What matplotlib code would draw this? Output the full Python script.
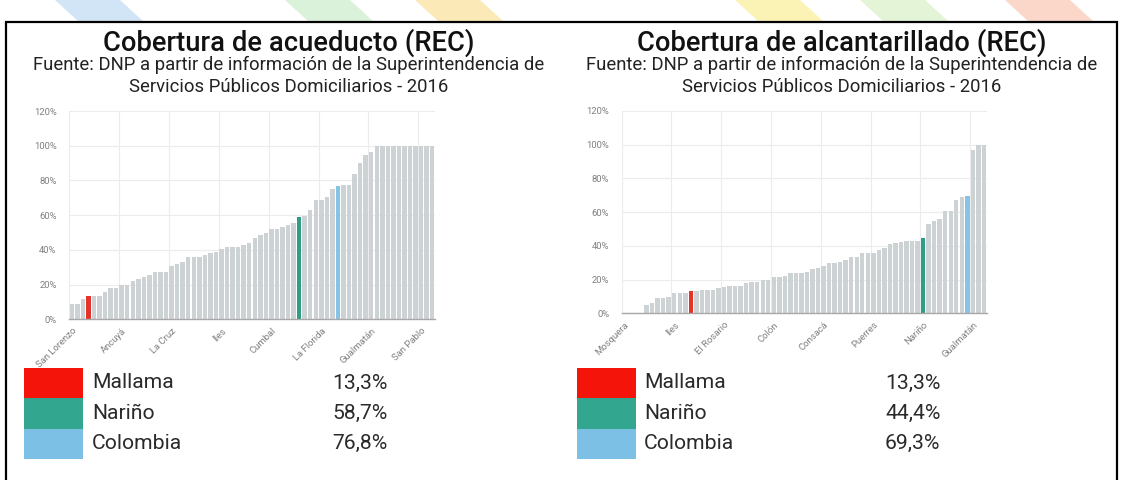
import matplotlib.pyplot as plt
from matplotlib.patches import Rectangle, Polygon
import numpy as np

plt.rcParams['font.family'] = ['Roboto', 'DejaVu Sans']

# Acueducto coverage (%) by municipality, sorted ascending
acu_values = [8.8, 8.8, 11.5, 13.3, 13.6, 13.6, 16, 18, 18, 20,
              20, 22, 23.5, 24.5, 25.5, 27, 27, 27, 30.7, 31.6,
              33, 36, 36, 36, 37, 38, 39, 40.3, 41.4, 41.4,
              41.6, 42.6, 43.8, 47, 48.5, 49.5, 52, 52, 53.3, 54.5,
              55.3, 58.7, 59.3, 63, 69, 69, 70.6, 74.9, 76.8, 77.4,
              77.4, 83.5, 89.9, 94.6, 96.5, 100, 100, 100, 100, 100,
              100, 100, 100, 100, 100, 100]
acu_tick_labels = ['San Lorenzo', 'Ancuyá', 'La Cruz', 'Iles', 'Cumbal',
                   'La Florida', 'Gualmatán', 'San Pablo']
acu_highlight = {3: 'Mallama', 41: 'Nariño', 48: 'Colombia'}
acu_legend_values = ['13,3%', '58,7%', '76,8%']

# Alcantarillado coverage (%) by municipality, sorted ascending
alc_values = [0, 0, 0, 0, 4.9, 6.3, 8.9, 9, 9.5, 11.8,
              11.8, 12.2, 13.3, 13.5, 13.8, 13.8, 13.8, 14.8, 15.8, 16.2,
              16.4, 16.4, 17.8, 18.3, 18.7, 19.7, 19.7, 21.3, 21.3, 22.3,
              23.7, 24, 24, 24.3, 26, 26.6, 28, 29.6, 29.6, 30.6,
              31.6, 33.1, 33.5, 35.5, 35.9, 35.9, 37.5, 38.9, 41, 41.8,
              42.4, 42.8, 42.8, 42.8, 44.4, 52.7, 54.8, 56.2, 60.5, 60.5,
              67.5, 69, 69.3, 96.6, 100, 100]
alc_tick_labels = ['Mosquera', 'Iles', 'El Rosario', 'Colón', 'Consacá',
                   'Puerres', 'Nariño', 'Gualmatán']
alc_highlight = {12: 'Mallama', 54: 'Nariño', 62: 'Colombia'}
alc_legend_values = ['13,3%', '44,4%', '69,3%']

legend_names = ['Mallama', 'Nariño', 'Colombia']
bar_colors = {'Mallama': '#e5332a', 'Nariño': '#2e9e86', 'Colombia': '#86c3e6'}
legend_colors = ['#f5140a', '#33a68f', '#7cc0e6']
gray = '#cdd2d4'

W, H = 1123, 480
fig = plt.figure(figsize=(W / 100, H / 100), dpi=100)
fig.patch.set_facecolor('white')

def fx(px):
    return px / W

def fy(py):
    return 1 - py / H

# faded decorative strokes at the top
for x0, c in [(55, '#cde3f6'), (285, '#d6f0d6'), (415, '#fbe7b0'),
              (735, '#fbf2ae'), (860, '#e0f3d3'), (1005, '#fad3c2')]:
    poly = Polygon([(fx(x0), fy(0)), (fx(x0 + 65), fy(0)),
                    (fx(x0 + 100), fy(32)), (fx(x0 + 35), fy(32))],
                   closed=True, transform=fig.transFigure,
                   facecolor=c, edgecolor='none', alpha=0.9, zorder=0)
    fig.add_artist(poly)

# white panel with black frame (bottom edge runs past the image)
frame = Rectangle((fx(6), fy(490)), fx(1111), (490 - 22) / H,
                  transform=fig.transFigure, facecolor='white',
                  edgecolor='black', linewidth=1.6, zorder=1)
fig.add_artist(frame)

def draw_panel(left_px, right_px, top_px, base_px, values, tick_labels,
               highlight, title, cx, leg_box_x, leg_text_x, leg_val_x, leg_vals):
    ax = fig.add_axes([fx(left_px), fy(base_px), fx(right_px - left_px),
                       (base_px - top_px) / H])
    ax.set_zorder(2)
    x = np.arange(len(values))
    colors = [bar_colors[highlight[i]] if i in highlight else gray for i in x]
    ax.bar(x, values, width=0.8, color=colors, zorder=2)
    ax.set_xlim(-0.5, len(values) - 0.5)
    ax.set_ylim(0, 120)
    ax.set_yticks(np.arange(0, 121, 20))
    ax.set_yticklabels([f'{v}%' for v in range(0, 121, 20)])
    ticks = np.arange(0, len(values), 9)
    ax.set_xticks(ticks)
    ax.set_xticklabels(tick_labels, rotation=45, ha='right',
                       rotation_mode='anchor')
    ax.set_xticks(ticks - 0.5, minor=True)
    ax.grid(axis='y', color='#ececec', linewidth=0.8, zorder=0)
    ax.grid(axis='x', which='minor', color='#ececec', linewidth=0.8, zorder=0)
    ax.tick_params(axis='both', which='both', length=0, labelsize=6.8,
                   labelcolor='#808080')
    ax.tick_params(axis='y', pad=9)
    ax.tick_params(axis='x', pad=5)
    for s in ['top', 'right', 'left']:
        ax.spines[s].set_visible(False)
    ax.spines['bottom'].set_color('#a8a8a8')
    ax.spines['bottom'].set_linewidth(1.0)
    ax.set_facecolor('none')

    fig.text(fx(cx), fy(43), title, ha='center', va='center',
             fontsize=19.7, fontweight='medium', color='#111111', zorder=3)
    fig.text(fx(cx), fy(65), 'Fuente: DNP a partir de información de la Superintendencia de',
             ha='center', va='center', fontsize=13.3, color='#222222', zorder=3)
    fig.text(fx(cx), fy(87), 'Servicios Públicos Domiciliarios - 2016',
             ha='center', va='center', fontsize=13.3, color='#222222', zorder=3)

    for k, (name, col, val) in enumerate(zip(legend_names, legend_colors, leg_vals)):
        y0 = 368 + 30.3 * k
        fig.add_artist(Rectangle((fx(leg_box_x), fy(y0 + 30.3)), fx(59), 30.3 / H,
                                 transform=fig.transFigure, facecolor=col,
                                 edgecolor='none', zorder=3))
        fig.text(fx(leg_text_x), fy(y0 + 15), name, ha='left', va='center',
                 fontsize=15.2, color='#2a2a2a', zorder=3)
        fig.text(fx(leg_val_x), fy(y0 + 15), val, ha='left', va='center',
                 fontsize=15.2, color='#2a2a2a', zorder=3)

draw_panel(69, 435, 111, 319.3, acu_values, acu_tick_labels, acu_highlight,
           'Cobertura de acueducto (REC)', 289, 24, 92, 332, acu_legend_values)
draw_panel(621.7, 986.7, 111, 313.3, alc_values, alc_tick_labels, alc_highlight,
           'Cobertura de alcantarillado (REC)', 842, 577, 644, 885, alc_legend_values)

fig.savefig('out.png', dpi=100, facecolor='white')
